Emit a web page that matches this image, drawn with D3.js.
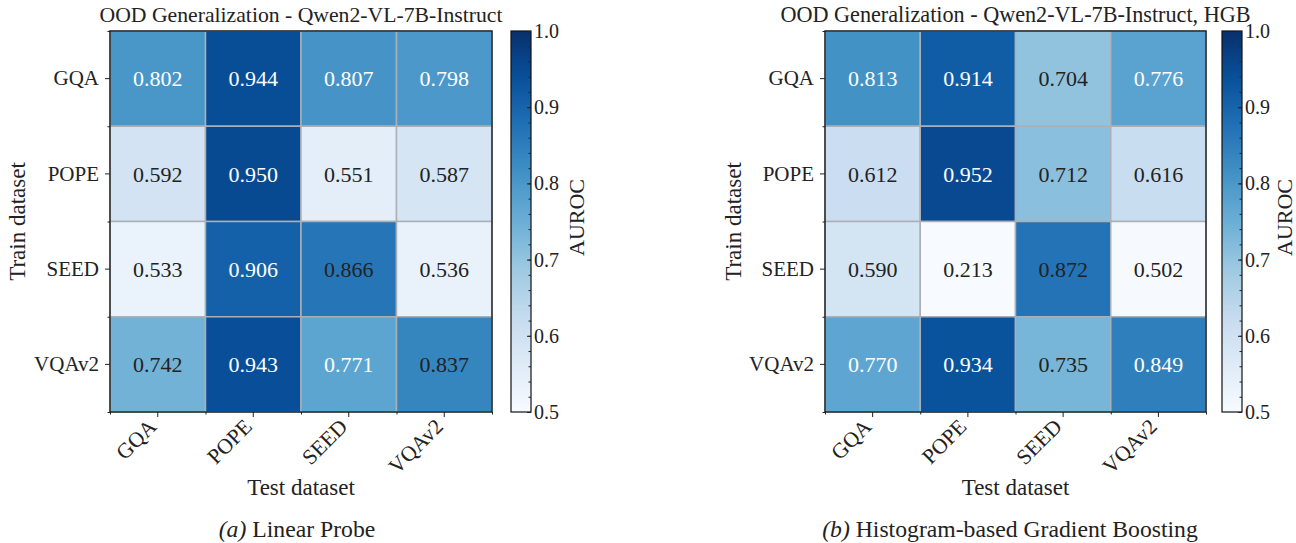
<!DOCTYPE html>
<html>
<head>
<meta charset="utf-8">
<script src="https://cdn.jsdelivr.net/npm/d3@7"></script>
<style>
  body { margin: 0; background: #fff; }
  svg text { font-family: "Liberation Serif", "DejaVu Serif", serif; fill: #222; }
</style>
</head>
<body>
<svg id="chart" width="1296" height="543"></svg>
<script>
const FONT = '"Liberation Serif", "DejaVu Serif", serif';

// datasets on both axes
const trainSets = ["GQA", "POPE", "SEED", "VQAv2"];
const testSets = ["GQA", "POPE", "SEED", "VQAv2"];

// AUROC, rows = train dataset, cols = test dataset
const linearProbe = [
  [0.802, 0.944, 0.807, 0.798],
  [0.592, 0.950, 0.551, 0.587],
  [0.533, 0.906, 0.866, 0.536],
  [0.742, 0.943, 0.771, 0.837]
];
const hgbScores = [
  [0.813, 0.914, 0.704, 0.776],
  [0.612, 0.952, 0.712, 0.616],
  [0.590, 0.213, 0.872, 0.502],
  [0.770, 0.934, 0.735, 0.849]
];

// annotation ink as it appears in the figure (w = white, k = black)
const linearInk = [
  ["w", "w", "w", "w"],
  ["k", "w", "k", "k"],
  ["k", "w", "k", "k"],
  ["k", "w", "w", "k"]
];
const hgbInk = [
  ["w", "w", "k", "w"],
  ["k", "w", "k", "k"],
  ["k", "k", "k", "k"],
  ["w", "w", "k", "w"]
];

const cbarTicks = [0.5, 0.6, 0.7, 0.8, 0.9, 1.0];
const vmin = 0.5, vmax = 1.0;

// matplotlib "Blues" (linear through the colorbrewer stops)
const bluesStops = ["#f7fbff", "#deebf7", "#c6dbef", "#9ecae1", "#6baed6",
                    "#4292c6", "#2171b5", "#08519c", "#08306b"];
const blues = d3.scaleLinear()
  .domain(d3.range(bluesStops.length).map(i => i / (bluesStops.length - 1)))
  .range(bluesStops)
  .interpolate(d3.interpolateRgb)
  .clamp(true);
const color = v => blues((v - vmin) / (vmax - vmin));

const svg = d3.select("#chart");

function styleAxis(a, size) {
  a.select(".domain").remove();
  a.selectAll("line").attr("stroke", "#222");
  a.attr("font-family", FONT);
  a.selectAll("text").style("font-size", size).style("font-family", FONT).attr("fill", "#222");
}

function drawPanel(cfg) {
  const g = svg.append("g");
  const { left, right, top, bottom } = cfg;

  const x = d3.scaleBand().domain(testSets).range([left, right]);
  const y = d3.scaleBand().domain(trainSets).range([top, bottom]);

  // cells
  const cells = [];
  cfg.data.forEach((row, i) => row.forEach((v, j) => cells.push({ r: trainSets[i], c: testSets[j], v, ink: cfg.ink[i][j] })));

  g.selectAll("rect.cell")
    .data(cells)
    .enter()
    .append("rect")
    .attr("class", "cell")
    .attr("x", d => x(d.c))
    .attr("y", d => y(d.r))
    .attr("width", x.bandwidth())
    .attr("height", y.bandwidth())
    .attr("fill", d => color(d.v))
    .attr("stroke", "#aab0b8")
    .attr("stroke-width", 1.5);

  g.selectAll("text.annot")
    .data(cells)
    .enter()
    .append("text")
    .attr("class", "annot")
    .attr("x", d => x(d.c) + x.bandwidth() / 2)
    .attr("y", d => y(d.r) + y.bandwidth() / 2)
    .attr("dy", "0.35em")
    .attr("text-anchor", "middle")
    .style("font-size", "22px")
    .style("fill", d => d.ink === "w" ? "#fff" : "#222")
    .text(d => d3.format(".3f")(d.v));

  // frame
  g.append("rect")
    .attr("x", left).attr("y", top)
    .attr("width", right - left).attr("height", bottom - top)
    .attr("fill", "none").attr("stroke", "#111").attr("stroke-width", 1.3);

  // minor ticks on cell edges
  const edgeX = d3.scaleLinear().domain([0, testSets.length]).range([left, right]);
  const edgeY = d3.scaleLinear().domain([0, trainSets.length]).range([top, bottom]);
  const minorX = g.append("g")
    .attr("transform", `translate(0,${bottom})`)
    .call(d3.axisBottom(edgeX).tickValues(d3.range(testSets.length + 1)).tickSize(2.5).tickFormat(""));
  const minorY = g.append("g")
    .attr("transform", `translate(${left},0)`)
    .call(d3.axisLeft(edgeY).tickValues(d3.range(trainSets.length + 1)).tickSize(2.5).tickFormat(""));
  styleAxis(minorX, "1px");
  styleAxis(minorY, "1px");

  // y axis
  const yAx = g.append("g")
    .attr("transform", `translate(${left},0)`)
    .call(d3.axisLeft(y).tickSize(5).tickPadding(6));
  styleAxis(yAx, "21px");

  // x axis, rotated labels
  const xAx = g.append("g")
    .attr("transform", `translate(0,${bottom})`)
    .call(d3.axisBottom(x).tickSize(5));
  styleAxis(xAx, "21.5px");
  xAx.selectAll("text")
    .attr("text-anchor", "end")
    .attr("x", 0).attr("y", 0).attr("dy", 0)
    .attr("transform", "translate(0,16) rotate(-45)");

  // title and axis labels
  const cx = (left + right) / 2;
  g.append("text")
    .attr("x", cx).attr("y", 22)
    .attr("text-anchor", "middle")
    .style("font-size", cfg.titleSize)
    .text(cfg.title);

  g.append("text")
    .attr("x", cx).attr("y", 495)
    .attr("text-anchor", "middle")
    .style("font-size", "23px")
    .text("Test dataset");

  g.append("text")
    .attr("transform", `translate(${cfg.ylabelX},${(top + bottom) / 2}) rotate(-90)`)
    .attr("text-anchor", "middle")
    .attr("dy", "0.35em")
    .style("font-size", "23px")
    .text("Train dataset");

  // colorbar
  const cb = cfg.cbar;
  const gradId = "grad" + cfg.id;
  const grad = svg.append("defs").append("linearGradient")
    .attr("id", gradId)
    .attr("x1", 0).attr("y1", 1).attr("x2", 0).attr("y2", 0);
  d3.range(0, 1.0001, 0.05).forEach(t => {
    grad.append("stop").attr("offset", t).attr("stop-color", blues(t));
  });

  const c = d3.scaleLinear().domain([vmin, vmax]).range([bottom, top]);
  g.append("rect")
    .attr("x", cb.x).attr("y", top)
    .attr("width", cb.w).attr("height", bottom - top)
    .attr("fill", `url(#${gradId})`)
    .attr("stroke", "#111").attr("stroke-width", 1.2);

  const cMinor = g.append("g")
    .attr("transform", `translate(${cb.x + cb.w},0)`)
    .call(d3.axisRight(c).tickValues(d3.range(0.52, 0.99, 0.02)).tickSize(-2.5).tickFormat(""));
  styleAxis(cMinor, "1px");

  const cAx = g.append("g")
    .attr("transform", `translate(${cb.x + cb.w},0)`)
    .call(d3.axisRight(c).tickValues(cbarTicks).tickSize(-4).tickPadding(3).tickFormat(d3.format(".1f")));
  styleAxis(cAx, "20px");

  g.append("text")
    .attr("transform", `translate(${cb.labelX},${(top + bottom) / 2 - 4}) rotate(-90)`)
    .attr("text-anchor", "middle")
    .attr("dy", "0.35em")
    .style("font-size", "22px")
    .text("AUROC");

  // caption
  const cap = g.append("text")
    .attr("x", cfg.captionX).attr("y", 537)
    .attr("text-anchor", "middle")
    .style("font-size", "23.7px");
  cap.append("tspan").style("font-style", "italic").text(cfg.captionTag + " ");
  cap.append("tspan").text(cfg.caption);
}

drawPanel({
  id: "a",
  left: 110, right: 492, top: 31, bottom: 412,
  data: linearProbe, ink: linearInk,
  title: "OOD Generalization - Qwen2-VL-7B-Instruct", titleSize: "21.7px",
  ylabelX: 17,
  cbar: { x: 511, w: 20, labelX: 576 },
  captionX: 297, captionTag: "(a)", caption: "Linear Probe"
});

drawPanel({
  id: "b",
  left: 825, right: 1206, top: 31, bottom: 412,
  data: hgbScores, ink: hgbInk,
  title: "OOD Generalization - Qwen2-VL-7B-Instruct, HGB", titleSize: "22.2px",
  ylabelX: 733,
  cbar: { x: 1222, w: 20, labelX: 1284 },
  captionX: 1010, captionTag: "(b)", caption: "Histogram-based Gradient Boosting"
});
</script>
</body>
</html>
